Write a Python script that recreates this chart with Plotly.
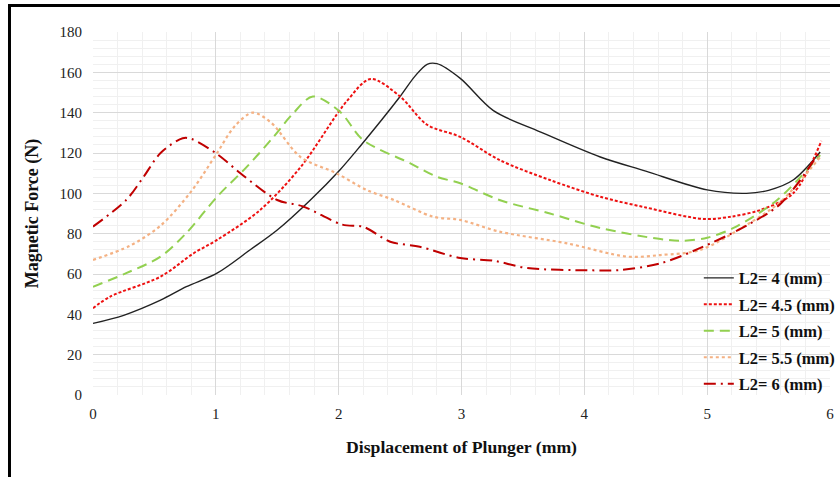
import plotly.graph_objects as go

# ---- data ----
names = ["L2= 4 (mm)", "L2= 4.5 (mm)", "L2= 5 (mm)", "L2= 5.5 (mm)", "L2= 6 (mm)"]

x_l4 = [0, 0.25, 0.55, 0.76, 1.01, 1.28, 1.5, 1.77, 2.01, 2.17, 2.5, 2.62, 2.72, 2.8, 2.99, 3.26, 3.64, 4.13, 4.5, 5.0, 5.32, 5.5, 5.7, 5.92]
y_l4 = [35.5, 39.5, 47, 53.7, 60.4, 72, 81.8, 96.7, 111.6, 123, 148, 158, 164, 164.3, 157, 141, 130.5, 118, 111, 101.7, 100, 101.5, 106.6, 120.5]

x_l45 = [0, 0.14, 0.55, 0.82, 1.01, 1.36, 1.69, 2.07, 2.26, 2.5, 2.72, 2.99, 3.31, 3.72, 4.13, 4.5, 4.97, 5.2, 5.43, 5.7, 5.93]
y_l45 = [43, 48.8, 58.7, 70.3, 76.9, 91.7, 113, 146, 156.7, 148, 134, 128, 116.5, 106.6, 98.3, 93, 87.3, 88.5, 91.7, 100, 126]

x_l5 = [0, 0.27, 0.55, 0.76, 1.01, 1.25, 1.47, 1.62, 1.79, 2.01, 2.2, 2.58, 2.8, 2.99, 3.31, 3.72, 4.13, 4.62, 4.8, 5.0, 5.21, 5.57, 5.92]
y_l5 = [53.7, 60.4, 68.6, 80.3, 98.3, 113, 128, 139, 148, 140.5, 126.4, 115, 108.2, 105, 96.7, 90, 82.8, 77.3, 76.5, 78, 82.7, 96.7, 119]

x_l55 = [0, 0.3, 0.55, 0.8, 1.01, 1.15, 1.3, 1.45, 1.69, 1.98, 2.23, 2.45, 2.77, 2.99, 3.31, 3.86, 4.35, 4.62, 4.94, 5.32, 5.6, 5.92]
y_l55 = [67, 74, 84, 101, 120, 133, 140, 135, 118, 110, 101.6, 96.7, 88.4, 86.8, 81, 75.2, 68.6, 69.4, 71.9, 84.3, 96, 118]

x_l6 = [0, 0.27, 0.41, 0.55, 0.73, 0.8, 1.01, 1.2, 1.5, 1.71, 2.03, 2.2, 2.42, 2.66, 2.99, 3.26, 3.53, 4.07, 4.3, 4.62, 4.94, 5.32, 5.6, 5.92]
y_l6 = [83.5, 96.7, 108, 120, 127.3, 127, 119.5, 110, 96.7, 93.5, 84.5, 83.4, 76, 73.5, 67.9, 66.6, 63, 61.8, 62, 65.3, 72.8, 84, 95, 121]

x_ticks = [0, 1, 2, 3, 4, 5, 6]
y_ticks = [0, 20, 40, 60, 80, 100, 120, 140, 160, 180]

series = [
    (x_l4, y_l4, "#222222", "solid", 1.4),
    (x_l45, y_l45, "#ee1111", "3px,2px", 2),
    (x_l5, y_l5, "#92d050", "10px,6px", 2),
    (x_l55, y_l55, "#f4b183", "dot", 2.2),
    (x_l6, y_l6, "#c00000", "12px,5px,2px,5px", 2),
]

fig = go.Figure()
for name, (xs, ys, col, dash, w) in zip(names, series):
    fig.add_trace(go.Scatter(
        x=xs, y=ys, mode="lines", name=name, legendgroup=name,
        line=dict(color=col, dash=dash, width=w, shape="spline", smoothing=0.9),
    ))

serif = "Liberation Serif, Times New Roman, serif"

fig.update_layout(
    width=840, height=477,
    margin=dict(l=93, r=10, t=32, b=82, autoexpand=False),
    paper_bgcolor="white", plot_bgcolor="white",
    font=dict(family=serif, color="#222222", size=15),
    showlegend=True,
    legend=dict(
        x=0.822, y=0.37, xanchor="left", yanchor="top",
        bgcolor="rgba(0,0,0,0)", tracegroupgap=2,
        font=dict(family=serif, size=16.5, color="#111111", weight="bold"),
    ),
    xaxis=dict(
        range=[0, 6], tickvals=x_ticks, ticktext=[str(v) for v in x_ticks],
        showgrid=True, gridcolor="#d9d9d9", gridwidth=1,
        minor=dict(dtick=0.2, showgrid=True, gridcolor="#f0f0f0", gridwidth=1),
        zeroline=False, showline=False, ticks="", automargin=False,
        ticklabelstandoff=8,
        tickfont=dict(family=serif, size=15, color="#222222"),
        title=dict(text="<b>Displacement of Plunger (mm)</b>", standoff=19,
                   font=dict(family=serif, size=17.7, color="#111111")),
    ),
    yaxis=dict(
        range=[0, 180], tickvals=y_ticks, ticktext=[str(v) for v in y_ticks],
        showgrid=True, gridcolor="#d9d9d9", gridwidth=1,
        minor=dict(dtick=4, showgrid=True, gridcolor="#f0f0f0", gridwidth=1),
        zeroline=False, showline=False, ticks="", automargin=False,
        ticklabelstandoff=10,
        tickfont=dict(family=serif, size=15, color="#222222"),
        title=dict(text="<b>Magnetic Force (N)</b>", standoff=16,
                   font=dict(family=serif, size=18, color="#111111")),
    ),
    shapes=[
        dict(type="line", xref="paper", yref="paper", x0=-0.1133, x1=-0.1133, y0=1.075, y1=-0.3,
             line=dict(color="black", width=3)),
        dict(type="line", xref="paper", yref="paper", x0=-0.1153, x1=1.03, y0=1.073, y1=1.073,
             line=dict(color="black", width=3)),
    ],
)

fig.write_html("out.html", config={"displayModeBar": False},
               post_script="document.body.style.margin='0px';")
